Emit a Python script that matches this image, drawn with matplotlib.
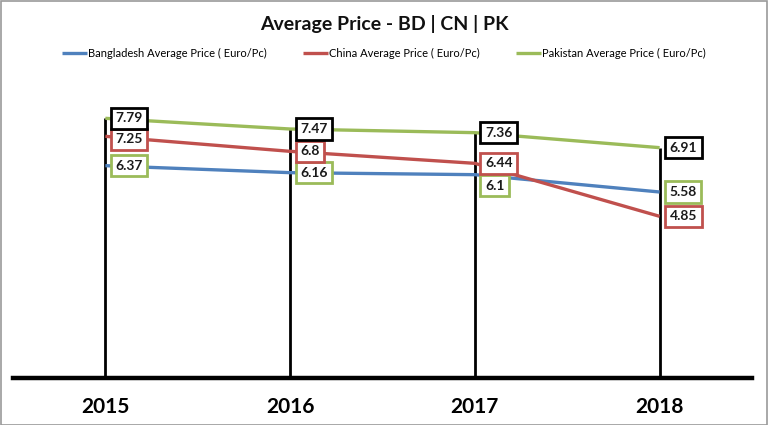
import matplotlib
matplotlib.use("Agg")
import matplotlib.pyplot as plt
from matplotlib.patches import Rectangle
import numpy as np

years = ["2015", "2016", "2017", "2018"]
bangladesh = [6.37, 6.16, 6.10, 5.58]
china = [7.25, 6.80, 6.44, 4.85]
pakistan = [7.79, 7.47, 7.36, 6.91]
series_names = ["Bangladesh Average Price ( Euro/Pc)",
                "China Average Price ( Euro/Pc)",
                "Pakistan Average Price ( Euro/Pc)"]
title = "Average Price - BD | CN | PK"

line_colors = ["#4F81BD", "#C0504D", "#9BBB59"]
box_colors = ["#9BBB59", "#C0504D", "#000000"]

plt.rcParams['font.family'] = ["Lato", "DejaVu Sans"]

W, H = 768, 425
fig = plt.figure(figsize=(W / 100, H / 100), dpi=100)
fig.patch.set_facecolor("white")
fig.add_artist(Rectangle((0.5 / W, 0.5 / H), 1 - 1.5 / W, 1 - 1.5 / H,
                         transform=fig.transFigure, fill=False,
                         ec="#9a9a9a", lw=1.2))

left, right = 13 / W, 752 / W
bottom, top = (H - 378) / H, (H - 78) / H
ax = fig.add_axes([left, bottom, right - left, top - bottom])
ax.set_xlim(-0.5, 3.5)
ax.set_ylim(0, 9)
ax.set_facecolor("none")

x = np.arange(len(years))
all_series = [bangladesh, china, pakistan]

# drop lines from the highest value to the axis
tops = np.max(np.array(all_series), axis=0)
ax.vlines(x, 0, tops, colors="black", lw=2.0, zorder=2)

for vals, col, name in zip(all_series, line_colors, series_names):
    ax.plot(x, vals, color=col, lw=2.4, label=name, zorder=3,
            solid_capstyle="butt")

# data labels
yoff = {(2, 0): -11, (0, 1): -3}
for si, (vals, bc) in enumerate(zip(all_series, box_colors)):
    for i, v in enumerate(vals):
        txt = f"{v:g}"
        dy = yoff.get((i, si), 0)
        ax.annotate(txt, (x[i], v), xytext=(10, dy), textcoords="offset pixels",
                    ha="left", va="center", fontsize=10, fontweight="bold",
                    color="#1a1a1a", zorder=5,
                    bbox=dict(boxstyle="square,pad=0.33", fc="white", ec=bc, lw=2.0))

for s in ["left", "right", "top"]:
    ax.spines[s].set_visible(False)
ax.spines["bottom"].set_linewidth(3.2)
ax.spines["bottom"].set_color("black")
ax.set_yticks([])
ax.set_xticks(x)
ax.set_xticklabels(years, fontsize=15, fontweight="bold")
ax.tick_params(axis="x", length=0, pad=14)

fig.text(0.5, 1 - 24 / H, title, ha="center", va="center",
         fontsize=14, fontweight="bold", color="#111111")

fig.legend(loc="center", bbox_to_anchor=(0.5, 1 - 53 / H), ncol=3,
           frameon=False, fontsize=8, handlelength=2.3, handletextpad=0.1,
           columnspacing=3.2)

fig.savefig("out.png", dpi=100, facecolor="white")
